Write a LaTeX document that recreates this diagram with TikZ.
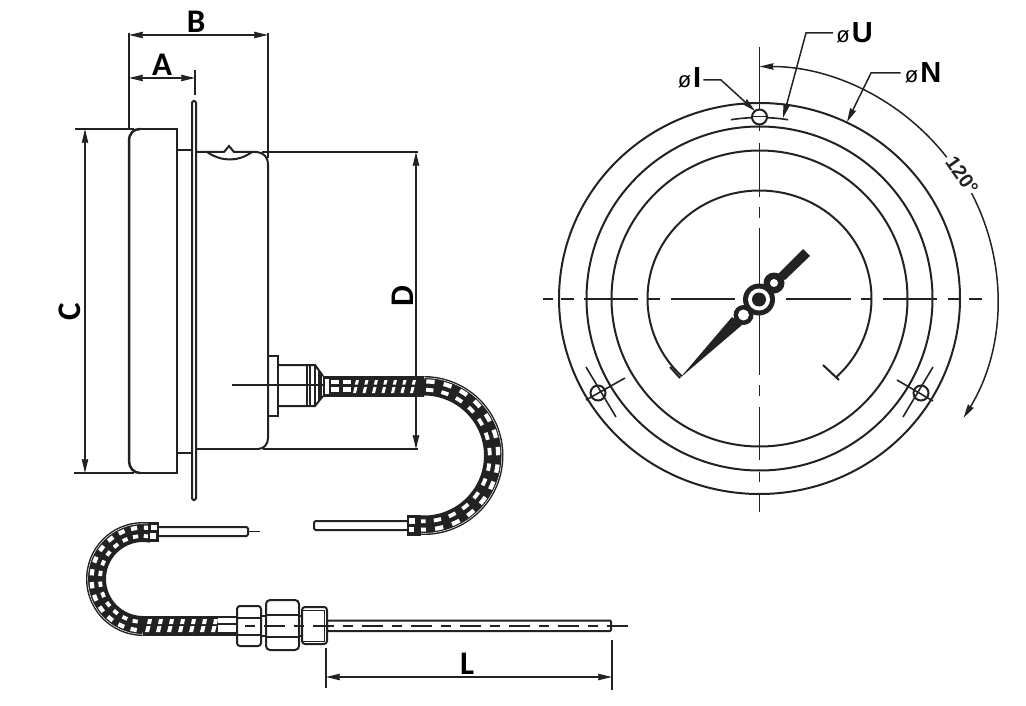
\documentclass[tikz,border=0pt]{standalone}
\usepackage{fontspec}
\setmainfont{Liberation Sans}
\newfontfamily\dimfont{Carlito}
\usetikzlibrary{arrows.meta}
\definecolor{inkdark}{HTML}{222222}
\tikzset{
	thick part/.style={line width=2pt, color=inkdark},
	thin part/.style={line width=1.6pt, color=inkdark},
	dimtip/.style={line width=1.5pt, color=inkdark, -{Stealth[length=14pt,width=6.5pt,inset=1pt]}},
	dimtips/.style={line width=1.5pt, color=inkdark, {Stealth[length=14pt,width=6.5pt,inset=1pt]}-{Stealth[length=14pt,width=6.5pt,inset=1pt]}},
	dimlabel/.style={inner sep=0pt, color=black, font=\dimfont\bfseries\fontsize{33}{33}\selectfont},
	holelabel/.style={inner sep=0pt, color=black, font=\bfseries\fontsize{29}{29}\selectfont},
}
\def\dia{{\fontsize{22}{22}\mdseries\selectfont ø}\kern2pt}
% armoured bend: centre, from:to angles, inner:outer radius, angle step
\def\armorbend(#1)(#2:#3)(#4:#5:#6){
	\begin{scope}[shift={(#1)},yscale=-1]
		\pgfmathsetmacro\rmid{(#4+#5)/2}
		\pgfmathsetmacro\rhigh{\rmid+4.4}
		\pgfmathsetmacro\rlow{\rmid-4}
		\pgfmathsetmacro\rhair{#5-1.7}
		\pgfmathsetmacro\nextang{#2+#6}
		\pgfmathsetmacro\lastang{#3-#6*0.7}
		\draw[color=inkdark, line width={#5-#4}] (#2:\rmid) arc (#2:#3:\rmid);
		\draw[white, line width=0.5pt] (#2:\rhair) arc (#2:#3:\rhair);
		\foreach \a in {#2,\nextang,...,\lastang} {
			\draw[white, line width=4.2pt] (\a+2:\rhigh) arc (\a+2:\a+#6*0.62:\rhigh);
			\draw[white, line width=3.8pt] (\a+2:\rlow) arc (\a+2:\a+#6*0.62:\rlow);
		}
	\end{scope}
}

\begin{document}
\begin{tikzpicture}[x=1pt,y=-1pt]
	\useasboundingbox (0,0) rectangle (1026,706);
	
	%%%%% SIDE VIEW %%%%%
	
	% bezel
	\draw[thick part] (75,129) -- (134,129);
	\draw[thick part] (138,129) -- (177,129) -- (177,473) -- (140,473);
	\draw[thick part] (74,473) -- (134,473);
	\draw[line width=2.5pt, color=inkdark] (140,129) .. controls (134,129) and (129,133) .. (129,141) -- (129,461) .. controls (129,468) and (134,473) .. (140,473);
	\draw[thick part] (177,150) -- (192,150);
	\draw[thick part] (177,453) -- (192,453);
	
	% plate
	\draw[thick part, rounded corners=1.5pt] (192,101) rectangle (196,500);
	\draw[thin part] (195,70) -- (195,95);
	
	% case
	\draw[thick part] (207,152) .. controls (222,162) and (238,162) .. (252,152);
	\draw[thick part] (196,152) -- (224,152) -- (229,146) -- (234,152) -- (257,152) .. controls (264,153) and (268,157) .. (268,165) -- (268,438) .. controls (268,444) and (264,449) .. (258,449);
	\draw[thick part] (196,449) -- (258,449);
	
	% extension lines
	\draw[thin part] (129,33) -- (129,129);
	\draw[thin part] (268,33) -- (268,158);
	\draw[thick part] (262,152) -- (418,152);
	\draw[thick part] (263,449) -- (418,449);
	
	% dimensions
	\draw[dimtips] (129,35) -- (268,35);
	\draw[dimtips] (129,78) -- (195,78);
	\draw[dimtips] (85,129) -- (85,473);
	\draw[dimtips] (416,152) -- (416,449);
	\node[dimlabel] (labelB) at (196,22) {B};
	\node[dimlabel] (labelA) at (162,65) {A};
	\node[dimlabel, rotate=90] (labelC) at (70,312) {C};
	\node[dimlabel, rotate=90] (labelD) at (403,296) {D};
	
	% fitting
	\draw[thick part] (268,356) -- (278,356) -- (278,416) -- (268,416);
	\draw[thick part] (278,365) -- (315,365) -- (323,376);
	\draw[thick part] (278,406) -- (315,406) -- (323,396);
	\draw[thick part] (307,365) -- (307,406);
	\draw[thick part] (310,365) -- (310,406);
	\draw[thick part] (315,365) -- (315,406);
	\draw[thin part] (319,371) -- (319,401);
	\draw[thin part] (321,373) -- (321,399);
	\draw[thin part] (232,385) -- (330,385);
	
	% armour, upper tube
	\fill[color=inkdark] (323,376) rectangle (424,397);
	\fill[white] (325,379) rectangle (329,394);
	\foreach \x in {331,343} {
		\fill[white] (\x,380) rectangle (\x+8,384);
		\fill[white] (\x,387) rectangle (\x+8,392);
	}
	\foreach \x in {354,363.5,...,412} {
		\fill[white] (\x+2,380) -- (\x+5,380) -- (\x+3.8,384.5) -- (\x+0.8,384.5) -- cycle;
		\fill[white] (\x+0.5,387) -- (\x+3.5,387) -- (\x+2,393) -- (\x-1,393) -- cycle;
	}
	\armorbend(424,455.5)(-97:90)(60:79.5:13.6)
	
	% upper tube wire
	\draw[thick part, rounded corners=1.5pt] (407,521) -- (314,521) -- (314,530) -- (407,530);
	\fill[color=inkdark] (407,515) rectangle (421,535.5);
	\fill[white] (409,518) rectangle (415,524);
	\fill[white] (409,527) rectangle (414,532);
	
	%%%%% LOWER TUBE %%%%%
	
	\draw[thick part, rounded corners=1.5pt] (158,527) -- (248,527) -- (248,536) -- (158,536);
	\draw[thin part] (248,531.5) -- (260,531.5);
	\armorbend(143,579)(80:270)(37:57:14.5)
	\fill[color=inkdark] (148,522) rectangle (159,542);
	\fill[white] (151,525) rectangle (157,530);
	\fill[white] (150,533) rectangle (156,539);
	
	\fill[color=inkdark] (143,616) rectangle (218,636);
	\fill[color=inkdark] (218,632) rectangle (238,636);
	\draw[thick part] (218,617) -- (238,617);
	\foreach \x in {146,157,...,212} {
		\fill[white] (\x+2,619) -- (\x+6,619) -- (\x+5,624) -- (\x+1,624) -- cycle;
		\fill[white] (\x+0.5,626) -- (\x+4.5,626) -- (\x+3,632) -- (\x-1,632) -- cycle;
	}
	\draw[thin part] (218,624) -- (238,624);
	
	% nuts
	\draw[thick part, rounded corners=3pt, fill=white] (237,606) rectangle (261,646);
	\draw[thick part] (237,618) -- (261,618);
	\draw[thick part] (237,635) -- (261,635);
	\draw[thick part] (261,616) -- (266,616);
	\draw[thick part] (261,636) -- (266,636);
	\draw[thick part, rounded corners=4pt, fill=white] (266,600) rectangle (299,650);
	\draw[thick part] (266,615) -- (299,615);
	\draw[thick part] (266,637) -- (299,637);
	\draw[thick part] (299,616) -- (302,616);
	\draw[thick part] (299,636) -- (302,636);
	\draw[thick part, rounded corners=3pt, fill=white] (302,607) rectangle (327,644);
	\draw[line width=1pt, color=inkdark] (302,610) -- (324,610) -- (324,641) -- (302,641);
	
	% rod
	\draw[thick part, rounded corners=1pt] (327,620.5) rectangle (611,631);
	\draw[thick part, dash pattern=on 10pt off 9pt on 21pt off 9pt] (245,625.5) -- (631,625.5);
	
	% dimension L
	\draw[thin part] (326,648) -- (326,688);
	\draw[thin part] (612,640) -- (612,690);
	\draw[dimtips] (326,677) -- (612,677);
	\node[dimlabel] (labelL) at (467,664) {L};
	
	%%%%% FRONT VIEW %%%%%
	
	\begin{scope}[shift={(759.5,298.5)},yscale=-1]
		\foreach \rx/\ry in {200.5/195.5,173/172,148/148} {
			\draw[thick part] (0,0) ellipse ({\rx} and {\ry});
		}
		\draw[thick part] (226:112 and 108) arc[start angle=226,end angle=-47,x radius=112,y radius=108];
		\draw[thin part] (99:183 and 181) arc[start angle=99,end angle=81,x radius=183,y radius=181];
		\draw[dimtip] (37.5:236 and 232) arc[start angle=37.5,end angle=90,x radius=236,y radius=232];
		\draw[dimtip] (27:238 and 232) arc[start angle=27,end angle=-31,x radius=238,y radius=232];
	\end{scope}
	
	% centre lines
	\foreach \a/\b in {543/553,561/574,584/638,648/660,671/735,786/851,861/872,883/937,948/960,969/982} {
		\draw[thick part] (\a,298.5) -- (\b,298.5);
	}
	\foreach \a/\b in {47/131,143/197,207/218,228/287,309/375,385/396,407/460,472/482,493/512} {
		\draw[thin part] (759.5,\a) -- (759.5,\b);
	}
	
	% holes
	\draw[thick part, fill=white] (759.5,117) circle (7.5);
	\draw[line width=1pt, color=inkdark] (752,117) -- (767,117);
	\draw[thick part] (598,393) circle (7.5);
	\draw[thick part] (921,393) circle (7.5);
	\draw[thin part] (586,400) -- (625,378);
	\draw[thin part] (586,367) -- (616,417);
	\draw[thin part] (897,380) -- (933,401);
	\draw[thin part] (933,367) -- (903,417);
	
	% pointer
	\fill[color=inkdark] (680,378) -- (732,317) -- (742,325) -- cycle;
	\fill[color=inkdark] (803,249) -- (810,256) -- (785,280) -- (778,274) -- cycle;
	\draw[thick part] (680,378) -- (670,367);
	\draw[thick part] (839,380) -- (823,365);
	\fill[color=inkdark] (743.5,315) circle (10);
	\fill[color=inkdark] (774,283) circle (10.5);
	\fill[color=inkdark] (759,299.5) circle (16);
	\fill[white] (743.5,315) circle (5.5);
	\fill[white] (774,283) circle (4);
	\fill[white] (759,299.5) circle (11);
	\fill[color=inkdark] (759,299.5) circle (7);
	
	% hole labels
	\node[holelabel] (diaI) at (689.5,78) {\dia I};
	\node[holelabel] (diaU) at (854.5,33) {\dia U};
	\node[holelabel] (diaN) at (923,73) {\dia N};
	\draw[dimtip] (diaI.east) ++(2,2) -- (721,80) -- (755,111);
	\draw[dimtip] (diaU.west) ++(-3,0) -- (806,33) -- (783,118);
	\draw[dimtip] (diaN.west) ++(-4,0) -- (871,73) -- (847,122);
	\node[inner sep=0pt, rotate=-55, font=\bfseries\fontsize{20}{20}\selectfont, color=inkdark] (angle) at (962,175) {120°};
	
	%%%%% END %%%%%
\end{tikzpicture}
\end{document}
